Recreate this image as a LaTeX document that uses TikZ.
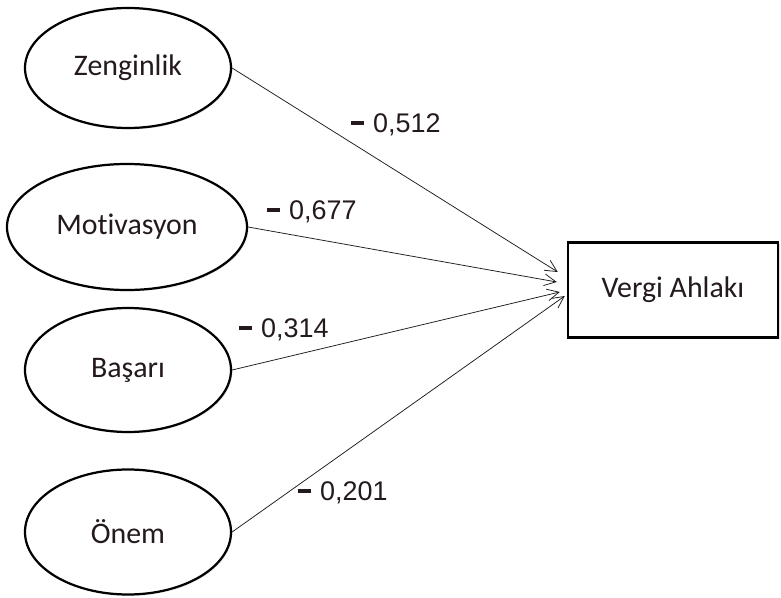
\documentclass[tikz,border=0pt]{standalone}
\usepackage{fontspec}
\setmainfont{Carlito}[Ligatures=NoCommon]
\newfontfamily\coeffont{Liberation Sans}
\usepackage{tikz}
\usetikzlibrary{arrows.meta,positioning,calc,shadows,shapes.geometric}
\definecolor{lineblk}{RGB}{30,30,30}
\definecolor{txtblk}{RGB}{35,25,30}
\newcommand{\negcoef}[1]{\rule[6.4pt]{10.5pt}{3.8pt}\hspace{8pt}#1}
\tikzset{
  latent/.style={ellipse, draw=black, line width=1.9pt, fill=white,
                 font=\fontsize{25.5}{30}\selectfont, text=txtblk,
                 drop shadow={opacity=0.18, shadow xshift=1.2pt, shadow yshift=-1.2pt}},
  obsbox/.style={rectangle, draw=black, line width=2.1pt, fill=white,
                 minimum width=6.3cm, minimum height=2.85cm,
                 font=\fontsize{25.5}{30}\selectfont, text=txtblk,
                 drop shadow={opacity=0.25, shadow xshift=1.5pt, shadow yshift=-1.5pt}},
  patharr/.style={-{Straight Barb[length=10pt, width=10pt]}, lineblk, line width=0.65pt},
  coef/.style={font=\coeffont\fontsize{23}{27}\selectfont, text=txtblk, inner sep=1pt},
}

\begin{document}
\begin{tikzpicture}[x=0.03cm, y=-0.03cm]
  \useasboundingbox (0,0) rectangle (781,598);
  % latent variables
  \node[latent, minimum width=6.18cm, minimum height=3.6cm]  (zen) at (128,68)  {Zenginlik};
  \node[latent, minimum width=7.2cm,  minimum height=3.78cm] (mot) at (127,227) {Motivasyon};
  \node[latent, minimum width=6.18cm, minimum height=3.72cm] (bas) at (128,370) {Başarı};
  \node[latent, minimum width=6.18cm, minimum height=3.75cm] (onm) at (128,532) {Önem};
  % outcome
  \node[obsbox] (va) at (673,290) {Vergi Ahlakı};
  % paths
  \draw[patharr] (zen.east) -- ($(va.west)+(-9,-18)$);
  \draw[patharr] (mot.east) -- ($(va.west)+(-10,-8)$);
  \draw[patharr] (bas.east) -- ($(va.west)+(-7,2)$);
  \draw[patharr] (onm.east) -- ($(va.west)+(-2,6)$);
  % coefficients
  \node[coef] (czen) at (396,125) {\negcoef{0,512}};
  \node[coef] (cmot) at (312,212) {\negcoef{0,677}};
  \node[coef] (cbas) at (284,330) {\negcoef{0,314}};
  \node[coef] (conm) at (343,493) {\negcoef{0,201}};
\end{tikzpicture}
\end{document}
